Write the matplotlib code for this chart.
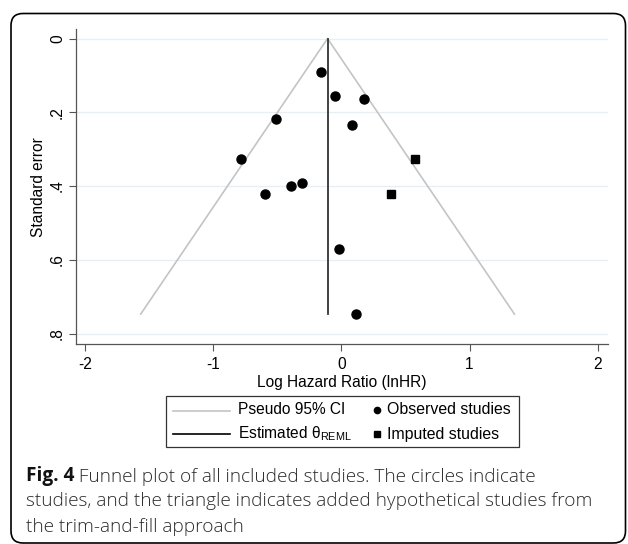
import matplotlib
matplotlib.use("Agg")
import matplotlib.pyplot as plt
from matplotlib.transforms import Affine2D
from matplotlib.patches import FancyBboxPatch, Rectangle
from matplotlib.lines import Line2D

W, H = 628, 544

# observed studies (lnHR, standard error)
obs_lnhr = [-0.159, -0.047, 0.178, -0.509, 0.081, -0.783, -0.393, -0.306, -0.593, -0.016, 0.115]
obs_se = [0.091, 0.157, 0.164, 0.219, 0.234, 0.326, 0.400, 0.391, 0.422, 0.570, 0.748]

# imputed (trim-and-fill) studies
imp_lnhr = [0.577, 0.387]
imp_se = [0.327, 0.422]

# pseudo 95% CI funnel and pooled estimate
funnel_lnhr = [-1.565, -0.108, 1.350]
funnel_se = [0.747, 0.0, 0.747]
theta = -0.108
est_se = [0.0, 0.747]

xticks = [-2, -1, 0, 1, 2]
xtick_labels = ["-2", "-1", "0", "1", "2"]
yticks = [0, 0.2, 0.4, 0.6, 0.8]
ytick_labels = ["0", ".2", ".4", ".6", ".8"]

legend_labels = ["Pseudo 95% CI", "Estimated θ$_{\\mathregular{REML}}$",
                 "Observed studies", "Imputed studies"]
caption_bold = "Fig. 4"
caption_lines = [" Funnel plot of all included studies. The circles indicate",
                 "studies, and the triangle indicates added hypothetical studies from",
                 "the trim-and-fill approach"]

plt.rcParams["font.family"] = ["Liberation Sans", "DejaVu Sans"]
plt.rcParams["mathtext.fontset"] = "custom"
plt.rcParams["mathtext.rm"] = "Liberation Sans"
plt.rcParams["mathtext.default"] = "regular"

fig = plt.figure(figsize=(W / 100, H / 100), dpi=100)
# pixel coords measured from the top-left corner
px = Affine2D().scale(1 / W, -1 / H).translate(0, 1) + fig.transFigure

ax = fig.add_axes([76 / W, 1 - 344.3 / H, (608 - 76) / W, (344.3 - 29.3) / H])

ax.plot(funnel_lnhr, funnel_se, color="#c4c4c4", lw=1.2, zorder=2)
ax.plot([theta, theta], est_se, color="#333333", lw=1.3, zorder=2)
ax.plot(obs_lnhr, obs_se, "o", color="black", ms=6.5, zorder=3)
ax.plot(imp_lnhr, imp_se, "s", color="black", ms=6.2, zorder=3)

ax.set_xlim(-2.07, 2.08)
ax.set_ylim(0.829, -0.025)
ax.set_xticks(xticks)
ax.set_xticklabels(xtick_labels)
ax.set_yticks(yticks)
ax.set_yticklabels(ytick_labels, rotation=90, va="center")
ax.tick_params(axis="both", direction="out", length=5, width=0.8, color="#555555",
               labelsize=11.2, pad=4)
ax.tick_params(axis="y", pad=3)

for s in ["top", "right"]:
    ax.spines[s].set_visible(False)
for s in ["left", "bottom"]:
    ax.spines[s].set_color("#555555")
    ax.spines[s].set_linewidth(0.9)

ax.yaxis.grid(True, color="#e6eff3", lw=0.9)
ax.set_axisbelow(True)

ax.set_xlabel("Log Hazard Ratio (lnHR)", fontsize=11.2, labelpad=2)
ax.set_ylabel("Standard error", fontsize=11.2, labelpad=3)

# legend drawn by hand (Stata style)
fig.add_artist(Rectangle((166, 396), 353, 51, transform=px, fill=False,
                         ec="#333333", lw=0.9))
fig.add_artist(Line2D([172.7, 230], [410.5, 410.5], transform=px, color="#c4c4c4", lw=1.2))
fig.add_artist(Line2D([172.7, 230], [434.3, 434.3], transform=px, color="black", lw=1.2))
fig.add_artist(Line2D([376.7], [410.3], transform=px, marker="o", ms=4.5, color="black", ls="none"))
fig.add_artist(Line2D([376.7], [434.0], transform=px, marker="s", ms=4.3, color="black", ls="none"))
fig.text(238.3, 414.5, legend_labels[0], transform=px, fontsize=11.2, va="baseline")
fig.text(238.3, 438.5, legend_labels[1], transform=px, fontsize=11.2, va="baseline")
fig.text(387.3, 414.5, legend_labels[2], transform=px, fontsize=11.4, va="baseline")
fig.text(387.3, 438.5, legend_labels[3], transform=px, fontsize=11.4, va="baseline")

# caption
cap_font = ["Open Sans", "DejaVu Sans"]
cap_size = 13.7
cap_col = "#2b2b2b"
t1 = fig.text(26, 481, caption_bold, transform=px, fontsize=cap_size, family=cap_font,
              fontweight="bold", va="baseline", color="#111111")
ax.annotate(caption_lines[0], xy=(1, 0), xycoords=t1, va="bottom", ha="left",
            fontsize=cap_size, family=cap_font, color=cap_col, fontweight=300)
fig.text(26, 506.5, caption_lines[1], transform=px, fontsize=cap_size, family=cap_font,
         va="baseline", color=cap_col, fontweight=300)
fig.text(26, 532, caption_lines[2], transform=px, fontsize=cap_size, family=cap_font,
         va="baseline", color=cap_col, fontweight=300)

# outer rounded frame
fig.add_artist(FancyBboxPatch((11, 13.5), 614.5, 529.5,
                              boxstyle="round,pad=0,rounding_size=12",
                              transform=px, fill=False, ec="black", lw=1.2))

fig.savefig("out.png", dpi=100)
